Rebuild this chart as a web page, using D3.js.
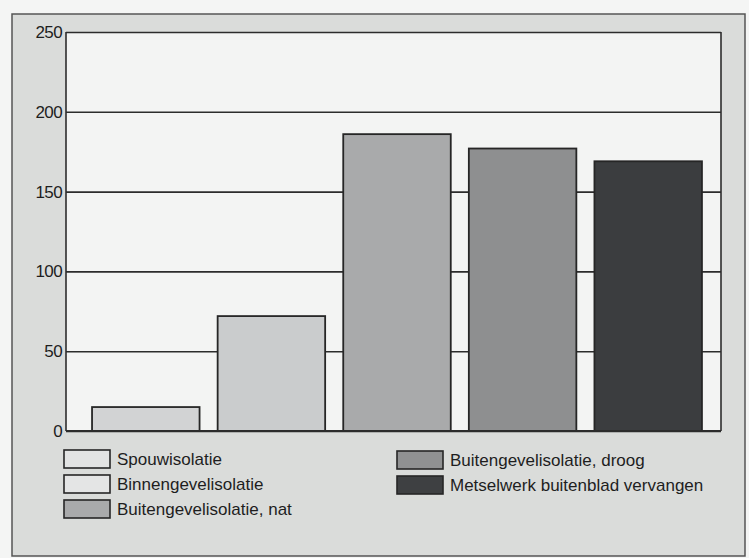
<!DOCTYPE html>
<html>
<head>
<meta charset="utf-8">
<script src="https://cdn.jsdelivr.net/npm/d3@7"></script>
<style>
  body { margin: 0; background: #f4f5f4; }
  text { font-family: "Liberation Sans", Arial, sans-serif; fill: #1e1e1e; }
</style>
</head>
<body>
<svg id="chart" width="749" height="558"></svg>
<script>
var categories = ["Spouwisolatie", "Binnengevelisolatie", "Buitengevelisolatie, nat",
                  "Buitengevelisolatie, droog", "Metselwerk buitenblad vervangen"]
var values = [15, 72, 186, 177, 169]
var yTicks = [0, 50, 100, 150, 200, 250]
var colors = ["#d2d3d4", "#cacccd", "#a9aaab", "#8e8f90", "#3b3d3f"]
var legendColors = ["#e2e3e3", "#e4e5e5", "#a9aaab", "#909192", "#3e4042"]

var svg = d3.select("#chart")

// outer gray panel
svg.append("rect")
  .attr("x", 12).attr("y", 14).attr("width", 733).attr("height", 542)
  .attr("fill", "#dadcda").attr("stroke", "#555").attr("stroke-width", 1.5)

var plotL = 66, plotR = 721, plotT = 32, plotB = 431

var x = d3.scaleBand()
  .domain(categories)
  .range([83, 711])
  .paddingInner(0.144)
  .paddingOuter(0.072)

var y = d3.scaleLinear().domain([0, 250]).range([plotB, plotT])

// white plot area
svg.append("rect")
  .attr("x", plotL).attr("y", plotT).attr("width", plotR - plotL).attr("height", plotB - plotT)
  .attr("fill", "#f3f4f3")

// grid lines + tick labels
svg.append("g")
  .attr("transform", `translate(${plotL},0)`)
  .call(d3.axisLeft(y).tickValues(yTicks).tickSize(-(plotR - plotL)).tickPadding(4))
  .call(g => g.select(".domain").remove())
  .call(g => g.selectAll(".tick line").attr("stroke", "#2c2c2c").attr("stroke-width", 1.6))
  .call(g => g.selectAll(".tick text")
    .attr("font-size", 17).attr("fill", "#1e1e1e")
    .attr("letter-spacing", -0.6)
    .attr("font-family", "'Liberation Sans', Arial, sans-serif"))

// plot frame: left and right
svg.append("line").attr("x1", plotL).attr("x2", plotL).attr("y1", plotT).attr("y2", plotB)
  .attr("stroke", "#2c2c2c").attr("stroke-width", 1.6)
svg.append("line").attr("x1", plotR).attr("x2", plotR).attr("y1", plotT).attr("y2", plotB)
  .attr("stroke", "#2c2c2c").attr("stroke-width", 1.6)

// bars
svg.append("g")
  .selectAll("rect")
  .data(categories)
  .join("rect")
    .attr("x", d => x(d))
    .attr("y", (d, i) => y(values[i]))
    .attr("width", x.bandwidth())
    .attr("height", (d, i) => plotB - y(values[i]))
    .attr("fill", (d, i) => colors[i])
    .attr("stroke", "#262626")
    .attr("stroke-width", 1.8)

// baseline
svg.append("line").attr("x1", plotL).attr("x2", plotR).attr("y1", plotB).attr("y2", plotB)
  .attr("stroke", "#2c2c2c").attr("stroke-width", 2)

// legend
var legendPos = [[64, 459], [64, 484], [64, 509], [397, 460], [397, 485]]
var legend = svg.append("g")
  .selectAll("g")
  .data(categories)
  .join("g")
    .attr("transform", (d, i) => `translate(${legendPos[i][0]},${legendPos[i][1]})`)

legend.append("rect")
  .attr("x", 0).attr("y", -9).attr("width", 46).attr("height", 18)
  .attr("fill", (d, i) => legendColors[i])
  .attr("stroke", "#262626").attr("stroke-width", 1.6)

legend.append("text")
  .attr("x", 53).attr("y", 6)
  .attr("font-size", 17)
  .text(d => d)
</script>
</body>
</html>
